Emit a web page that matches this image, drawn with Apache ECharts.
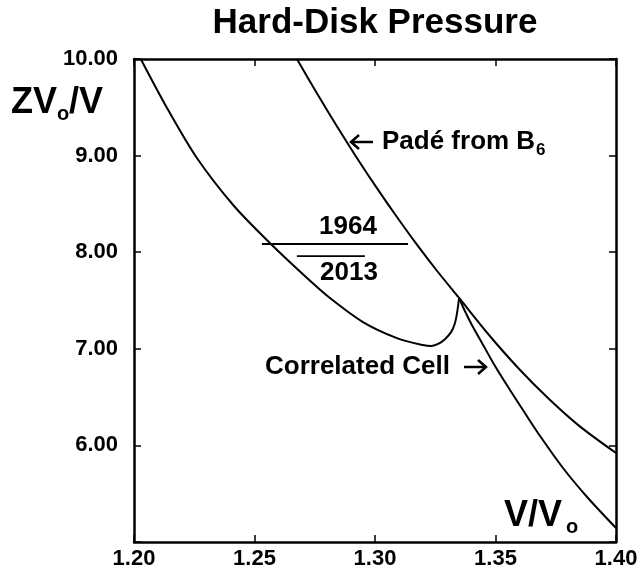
<!DOCTYPE html>
<html>
<head>
<meta charset="utf-8">
<title>Hard-Disk Pressure</title>
<script src="https://cdn.jsdelivr.net/npm/echarts@6/dist/echarts.min.js"></script>
<style>
  html, body { margin: 0; padding: 0; background: #fff; }
  #chart { width: 642px; height: 573px; }
</style>
</head>
<body>
<div id="chart"></div>
<script>
// axis ranges (tick values)
const xTicks = [1.20, 1.25, 1.30, 1.35, 1.40];
const yTicks = [5, 6, 7, 8, 9, 10];

// lower curve: fluid branch with the loop that ends at the cusp
const fluidCurve = [
  [1.2028, 10.00], [1.2137, 9.493], [1.2261, 8.975], [1.2415, 8.478],
  [1.2568, 8.085], [1.2718, 7.733], [1.2813, 7.526], [1.2950, 7.277],
  [1.3091, 7.111], [1.3199, 7.039], [1.3235, 7.03], [1.3262, 7.05],
  [1.3290, 7.10], [1.3315, 7.17], [1.3331, 7.26], [1.3341, 7.38],
  [1.3349, 7.53]
];

// Padé approximant from B6
const padeCurve = [
  [1.2676, 10.00], [1.2759, 9.645], [1.2842, 9.303], [1.2925, 8.976],
  [1.3008, 8.663], [1.3091, 8.364], [1.3174, 8.078], [1.3257, 7.808],
  [1.3349, 7.526], [1.3473, 7.143], [1.3598, 6.791], [1.3722, 6.480],
  [1.3846, 6.205], [1.4000, 5.921]
];

// correlated cell (solid branch)
const cellCurve = [
  [1.3349, 7.526], [1.3373, 7.391], [1.3402, 7.246], [1.3444, 7.060],
  [1.3498, 6.822], [1.3560, 6.574], [1.3622, 6.335], [1.3685, 6.097],
  [1.3780, 5.766], [1.3880, 5.466], [1.4000, 5.145]
];

// coexistence pressures
const line1964 = [[1.2531, 8.085], [1.3137, 8.085]];
const line2013 = [[1.2676, 7.96], [1.2958, 7.96]];

const FONT = '"Liberation Sans", Arial, Helvetica, sans-serif';

const chart = echarts.init(document.getElementById('chart'));

const curve = (data, width) => ({
  type: 'line',
  data: data,
  symbol: 'none',
  smooth: 0.3,
  silent: true,
  lineStyle: { color: '#000', width: width }
});

const axisCommon = {
  type: 'value',
  axisLine: { show: true, lineStyle: { color: '#000', width: 2.5 } },
  axisTick: { show: true, inside: true, length: 7, lineStyle: { color: '#000', width: 1.5 } },
  splitLine: { show: false }
};

// plain text helper for the graphic layer
const label = (text, x, y, size, align) => ({
  type: 'text', x: x, y: y, silent: true,
  style: {
    text: text, fill: '#000', font: 'bold ' + size + 'px ' + FONT,
    align: align, verticalAlign: 'middle',
    textAlign: align, textVerticalAlign: 'middle'
  }
});

// annotation arrow, dir = -1 points left, 1 points right
const arrow = (x0, x1, y, dir) => {
  const tip = dir < 0 ? x0 : x1;
  return {
    type: 'group', silent: true,
    children: [
      { type: 'line', shape: { x1: x0, y1: y, x2: x1, y2: y }, style: { stroke: '#000', lineWidth: 2.5 } },
      {
        type: 'polyline',
        shape: { points: [[tip - dir * 8, y - 7], [tip, y], [tip - dir * 8, y + 7]] },
        style: { stroke: '#000', lineWidth: 2.5, fill: null, lineJoin: 'miter' }
      }
    ]
  };
};

const option = {
  animation: false,
  backgroundColor: '#fff',
  grid: { left: 134, right: 26, top: 59, bottom: 31 },
  xAxis: [
    Object.assign({}, axisCommon, {
      position: 'bottom',
      min: xTicks[0], max: xTicks[xTicks.length - 1], interval: 0.05,
      axisLabel: {
        margin: 6, color: '#000', fontFamily: FONT, fontWeight: 'bold', fontSize: 22,
        formatter: v => v.toFixed(2)
      }
    }),
    Object.assign({}, axisCommon, {
      position: 'top',
      min: xTicks[0], max: xTicks[xTicks.length - 1], interval: 0.05,
      axisLabel: { show: false }
    })
  ],
  yAxis: [
    Object.assign({}, axisCommon, {
      position: 'left',
      min: yTicks[0], max: yTicks[yTicks.length - 1], interval: 1,
      axisLabel: {
        margin: 16, color: '#000', fontFamily: FONT, fontWeight: 'bold', fontSize: 22,
        padding: [5, 0, 0, 0],
        formatter: v => (v === yTicks[0] ? '' : v.toFixed(2))
      }
    }),
    Object.assign({}, axisCommon, {
      position: 'right',
      min: yTicks[0], max: yTicks[yTicks.length - 1], interval: 1,
      axisLabel: { show: false }
    })
  ],
  series: [
    curve(fluidCurve, 2),
    curve(padeCurve, 2),
    curve(cellCurve, 2),
    curve(line1964, 1.8),
    curve(line2013, 1.8)
  ],
  graphic: [
    label('Hard-Disk Pressure', 375, 23, 35, 'center'),
    // y axis name ZVo/V
    label('ZV', 11, 103, 36, 'left'),
    label('o', 57, 114, 20, 'left'),
    label('/V', 69, 103, 36, 'left'),
    // x axis name V/Vo
    label('V/V', 504, 516, 36, 'left'),
    label('o', 566, 527, 20, 'left'),
    // coexistence labels
    label('1964', 348, 227, 26, 'center'),
    label('2013', 349, 273, 26, 'center'),
    // curve annotations
    label('Correlated Cell', 265, 367, 26, 'left'),
    arrow(464, 486, 367, 1),
    arrow(351, 373, 142, -1),
    label('Padé from B', 382, 142, 26, 'left'),
    label('6', 536, 150, 17, 'left')
  ]
};

chart.setOption(option);
</script>
</body>
</html>
